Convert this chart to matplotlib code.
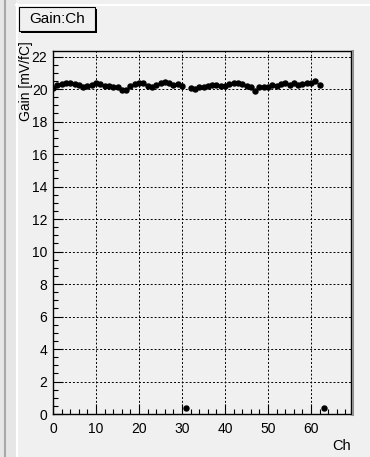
import matplotlib.pyplot as plt
from matplotlib.patches import Rectangle
from matplotlib.lines import Line2D
from matplotlib.ticker import MultipleLocator

plt.rcParams['font.family'] = ['Liberation Sans', 'DejaVu Sans']

# channel numbers and measured gain [mV/fC]
channels = list(range(64))
gain = [20.05, 20.25, 20.3, 20.35, 20.4, 20.3, 20.25, 20.15, 20.2, 20.25,
        20.35, 20.3, 20.2, 20.2, 20.1, 20.15, 19.95, 19.95, 20.2, 20.3,
        20.35, 20.4, 20.2, 20.15, 20.25, 20.4, 20.45, 20.4, 20.25, 20.3,
        20.2, 0.4, 20.05, 20.0, 20.15, 20.1, 20.2, 20.25, 20.25, 20.2,
        20.2, 20.3, 20.35, 20.35, 20.3, 20.2, 20.15, 19.85, 20.1, 20.15,
        20.15, 20.25, 20.2, 20.3, 20.4, 20.25, 20.35, 20.25, 20.3, 20.35,
        20.4, 20.5, 20.25, 0.4]

bg = "#f0f0f0"
W, H = 370, 457
fig = plt.figure(figsize=(W / 100, H / 100), dpi=100, facecolor=bg)

# canvas border (ROOT style bevel)
fig.patches.append(Rectangle((0, 0), 16 / W, 1, transform=fig.transFigure,
                             facecolor="#e6e6e6", edgecolor="none"))
fig.lines.append(Line2D([5 / W, 5 / W], [0, 1], transform=fig.transFigure,
                        color="#a8a8a8", lw=1.5))
fig.lines.append(Line2D([16.5 / W, 16.5 / W], [0, 1 - 4 / H], transform=fig.transFigure,
                        color="white", lw=1.5))
fig.lines.append(Line2D([16 / W, 1], [1 - 4.5 / H, 1 - 4.5 / H], transform=fig.transFigure,
                        color="white", lw=1.5))

left, right, top, bottom = 53, 351, 51, 414
ax = fig.add_axes([left / W, 1 - bottom / H, (right - left) / W, (bottom - top) / H])
ax.set_facecolor(bg)

ax.plot(channels, gain, "o", color="black", markersize=3.6, zorder=3)

ax.set_xlim(0, 69.3)
ax.set_ylim(0, 22.34)
ax.xaxis.set_major_locator(MultipleLocator(10))
ax.xaxis.set_minor_locator(MultipleLocator(2))
ax.yaxis.set_major_locator(MultipleLocator(2))
ax.yaxis.set_minor_locator(MultipleLocator(0.5))
ax.tick_params(which="both", direction="in", top=False, right=False, labelsize=10)
ax.tick_params(which="major", length=7, width=0.8)
ax.tick_params(which="minor", length=3.5, width=0.8)
ax.tick_params(axis="x", pad=6)
ax.tick_params(axis="y", pad=4)
ax.grid(True, which="major", color="black", linestyle=(0, (2, 2)), linewidth=0.7)
for s in ax.spines.values():
    s.set_color("black")
    s.set_linewidth(1)

# axis titles, ROOT puts them at the far end of the axis
fig.text(26 / W, 1 - 41 / H, "Gain [mV/fC]", rotation=90, ha="center", va="top",
         fontsize=10)
fig.text(right / W, 1 - 446 / H, "Ch", ha="right", va="center", fontsize=10.5)

# frame shadow on the right
fig.lines.append(Line2D([(right + 1.5) / W] * 2, [1 - (bottom + 1) / H, 1 - top / H],
                        transform=fig.transFigure, color="#909090", lw=1.5))

# title box with shadow
tx0, ty0, tx1, ty1 = 19, 7, 95, 31
fig.patches.append(Rectangle((tx0 / W + 2 / W, 1 - (ty1 + 2) / H), (tx1 - tx0) / W, (ty1 - ty0) / H,
                             transform=fig.transFigure, facecolor="black", edgecolor="none"))
fig.patches.append(Rectangle((tx0 / W, 1 - ty1 / H), (tx1 - tx0) / W, (ty1 - ty0) / H,
                             transform=fig.transFigure, facecolor=bg, edgecolor="black", lw=0.8))
fig.text((tx0 + tx1) / 2 / W, 1 - (ty0 + ty1) / 2 / H, "Gain:Ch", ha="center", va="center",
         fontsize=11)

fig.savefig("out.png", dpi=100, facecolor=bg)
